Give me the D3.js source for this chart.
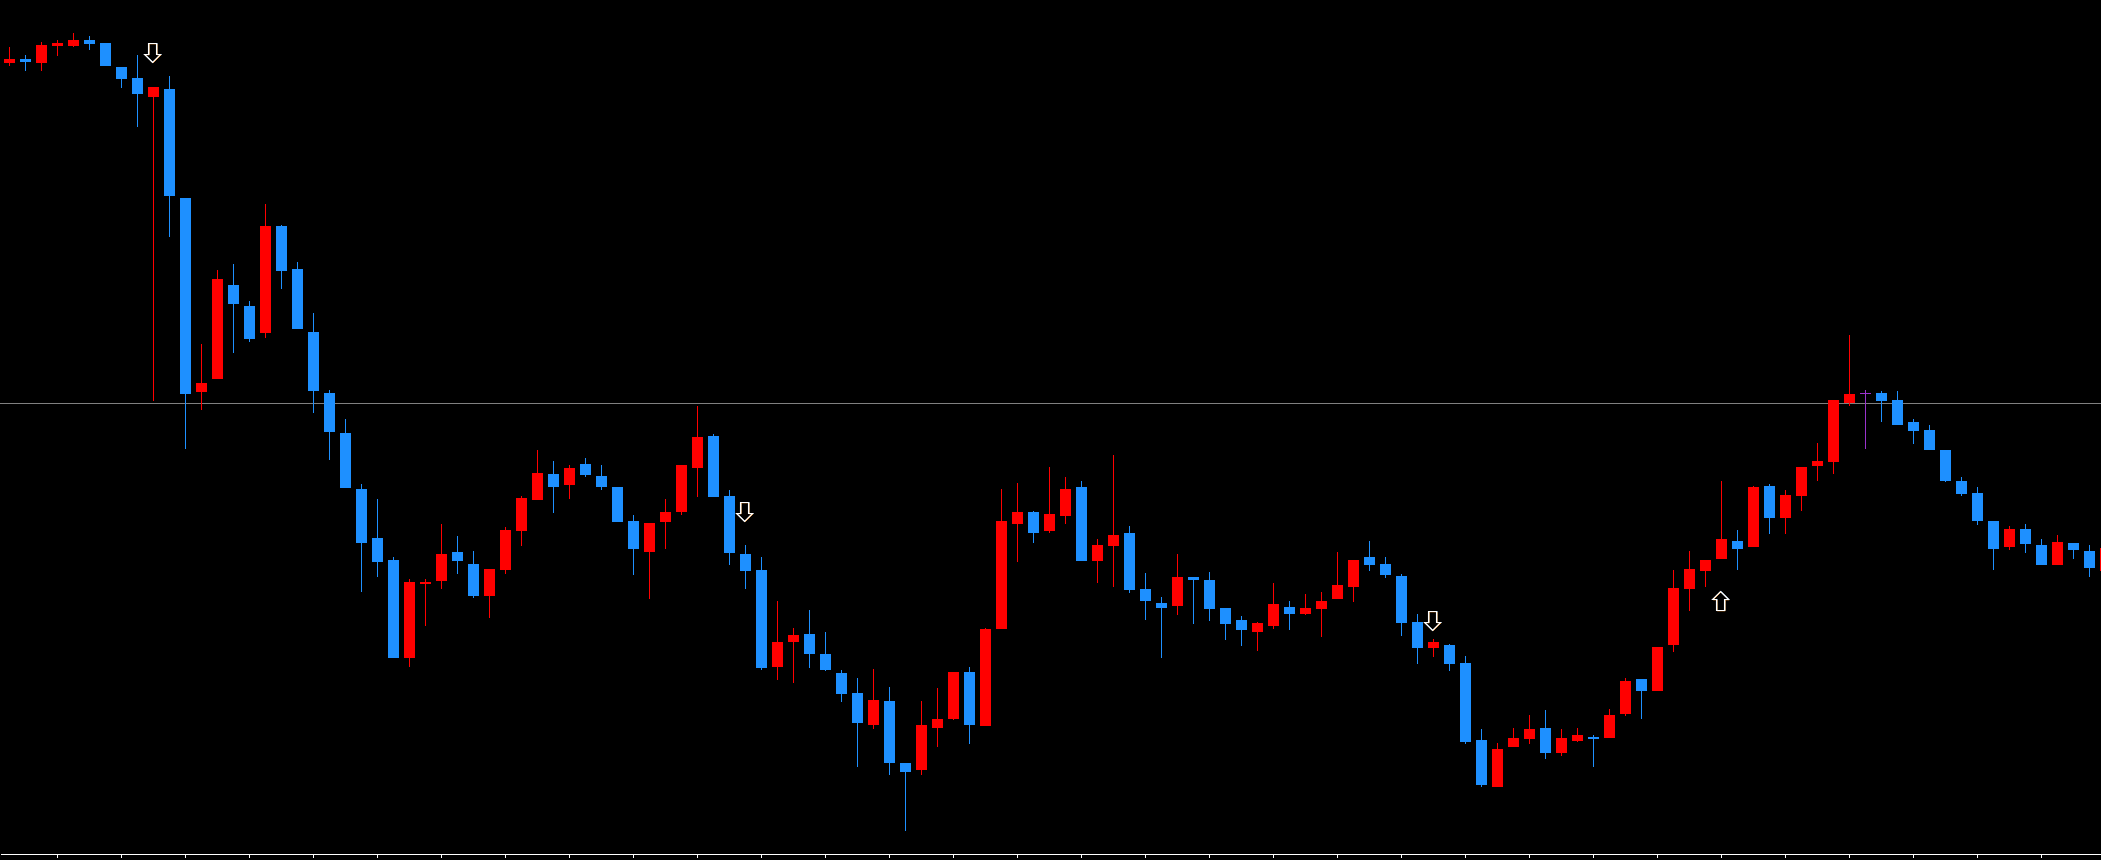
<!DOCTYPE html>
<html>
<head>
<meta charset="utf-8">
<script src="https://cdn.jsdelivr.net/npm/d3@7/dist/d3.min.js"></script>
<style>
html, body { margin: 0; padding: 0; background: #000; overflow: hidden; }
svg { display: block; }
</style>
</head>
<body>
<div id="chart"></div>
<script>
// prices are in chart units, no price axis is shown
const opens = [797,801,797,814,814,820,817,793,782,763,771,662,468,481,575,554,527,634,591,528,467,427,371,322,300,202,276,279,308,296,264,290,329,360,386,375,396,384,373,339,308,338,348,392,424,364,306,290,193,218,226,206,187,167,135,159,97,90,132,141,188,134,231,336,348,329,344,373,299,314,327,271,257,254,283,280,252,240,228,234,253,246,251,261,273,303,296,284,238,212,215,197,120,73,113,121,132,107,119,123,122,146,181,169,215,271,289,301,319,313,374,342,364,394,398,457,467,467,460,438,430,410,379,367,339,313,331,315,295,317,309,289];
const highs = [813,805,818,820,827,824,817,793,805,773,784,662,516,590,596,559,656,635,598,547,470,441,376,361,303,281,281,336,324,309,291,333,364,410,399,395,402,395,373,345,337,361,395,454,426,370,315,303,259,232,250,228,190,182,191,173,97,159,172,188,193,232,371,377,349,393,383,379,321,405,334,287,263,306,283,288,252,244,238,277,259,266,268,308,300,319,303,286,246,221,216,204,131,117,132,145,150,131,132,125,151,182,181,213,290,309,300,379,330,374,376,370,393,417,460,525,470,469,469,441,435,410,383,373,339,334,336,321,325,317,315,312];
const lows = [794,789,789,804,813,810,794,772,733,459,623,411,450,481,507,518,522,571,531,447,400,372,268,283,202,193,234,271,286,262,242,286,314,360,347,361,383,370,338,285,261,311,345,363,363,295,271,190,180,177,192,189,158,93,131,85,29,85,113,140,116,134,231,298,317,327,336,299,277,273,267,240,202,245,236,239,220,214,209,231,230,245,223,261,258,289,282,224,196,203,189,116,73,73,113,116,101,104,118,93,122,144,141,169,208,249,273,301,290,313,326,326,349,379,386,454,411,438,435,416,410,378,364,335,290,310,307,295,295,301,283,289];
const closes = [801,798,815,817,820,816,794,781,766,773,664,466,477,581,556,521,634,589,531,469,428,372,317,298,202,278,278,306,299,264,291,330,362,387,373,392,385,373,338,311,337,348,395,423,363,307,289,192,218,225,206,190,166,137,160,97,88,135,141,188,135,231,339,348,327,346,371,299,315,325,270,259,252,283,280,251,236,230,237,256,246,252,259,275,300,295,285,237,212,218,196,118,75,111,122,131,107,122,125,121,145,179,169,213,272,291,300,321,311,373,342,365,393,399,460,466,467,459,435,429,410,379,366,339,311,331,316,295,318,310,292,312];

// the level line across the chart
const hLevel = 457;

// arrow marks: candle index and the level of the arrow's flat end
const downArrowIdx = [9, 46, 89];
const downArrowLevel = [817, 358, 249];
const upArrowIdx = [107];
const upArrowLevel = [249];

const width = 2101;
const height = 860;
const bodyWidth = 11;

const candles = opens.map((o, i) => ({ i: i, open: o, high: highs[i], low: lows[i], close: closes[i] }));

const x = d3.scaleLinear().domain([-0.5625, 130.75]).range([0, width]);
const y = d3.scaleLinear().domain([0, 860]).range([height, 0]);

function candleColor(d) {
    if (d.open === d.close) return "#9932cc";
    return d.close > d.open ? "#ff0000" : "#1e90ff";
}

var svg = d3.select("#chart").append("svg")
    .attr("width", width)
    .attr("height", height)
    .attr("viewBox", [0, 0, width, height])
    .style("background", "#000");

svg.append("line")
    .attr("x1", 0)
    .attr("x2", width)
    .attr("y1", y(hLevel) + 0.5)
    .attr("y2", y(hLevel) + 0.5)
    .attr("stroke", "#808080")
    .attr("shape-rendering", "crispEdges");

var candleGroups = svg.append("g")
    .attr("shape-rendering", "crispEdges")
    .selectAll("g")
    .data(candles)
    .enter()
    .append("g")
    .attr("fill", candleColor);

// wicks
candleGroups.append("rect")
    .attr("x", d => Math.round(x(d.i)))
    .attr("width", 1)
    .attr("y", d => y(d.high))
    .attr("height", d => y(d.low) - y(d.high));

// bodies, a doji still gets one pixel
candleGroups.append("rect")
    .attr("x", d => Math.round(x(d.i)) - 5)
    .attr("width", bodyWidth)
    .attr("y", d => y(Math.max(d.open, d.close)))
    .attr("height", d => Math.max(1, Math.abs(y(d.open) - y(d.close))));

// outline of the arrow, dir 1 points down and -1 points up
function arrowPath(dir) {
    var p = d3.path();
    p.moveTo(-4, 0);
    p.lineTo(4, 0);
    p.lineTo(4, dir * 11);
    p.lineTo(8, dir * 11);
    p.lineTo(0, dir * 19);
    p.lineTo(-8, dir * 11);
    p.lineTo(-4, dir * 11);
    p.closePath();
    return p.toString();
}

const arrows = downArrowIdx.map((d, k) => ({ i: d, level: downArrowLevel[k], dir: 1 }))
    .concat(upArrowIdx.map((d, k) => ({ i: d, level: upArrowLevel[k], dir: -1 })));

var arrowGroups = svg.append("g")
    .selectAll("g")
    .data(arrows)
    .enter()
    .append("g")
    .attr("transform", d => `translate(${Math.round(x(d.i)) - 0.5}, ${y(d.level) + (d.dir > 0 ? 0.5 : -0.5)})`)
    .attr("fill", "none");

// the reference glyphs have coloured fringes, so two offset copies sit under the white one
arrowGroups.append("path")
    .attr("d", d => arrowPath(d.dir))
    .attr("transform", "translate(1, 0)")
    .attr("stroke", "#4aa8ff")
    .attr("stroke-width", 1);

arrowGroups.append("path")
    .attr("d", d => arrowPath(d.dir))
    .attr("transform", "translate(0.7, 0.3)")
    .attr("stroke", "#e08a30")
    .attr("stroke-width", 1);

arrowGroups.append("path")
    .attr("d", d => arrowPath(d.dir))
    .attr("stroke", "#ffffff")
    .attr("stroke-width", 1.1);

// bottom axis without labels, a tick every fourth candle
var xAxis = d3.axisBottom(x)
    .tickValues(d3.range(3, 131, 4))
    .tickSize(4)
    .tickSizeOuter(0)
    .tickFormat("");

var axisG = svg.append("g")
    .attr("transform", `translate(0, ${height - 6})`)
    .attr("shape-rendering", "crispEdges")
    .call(xAxis);

axisG.select(".domain").attr("stroke", "#ffffff");
axisG.selectAll(".tick line").attr("stroke", "#ffffff");
</script>
</body>
</html>
